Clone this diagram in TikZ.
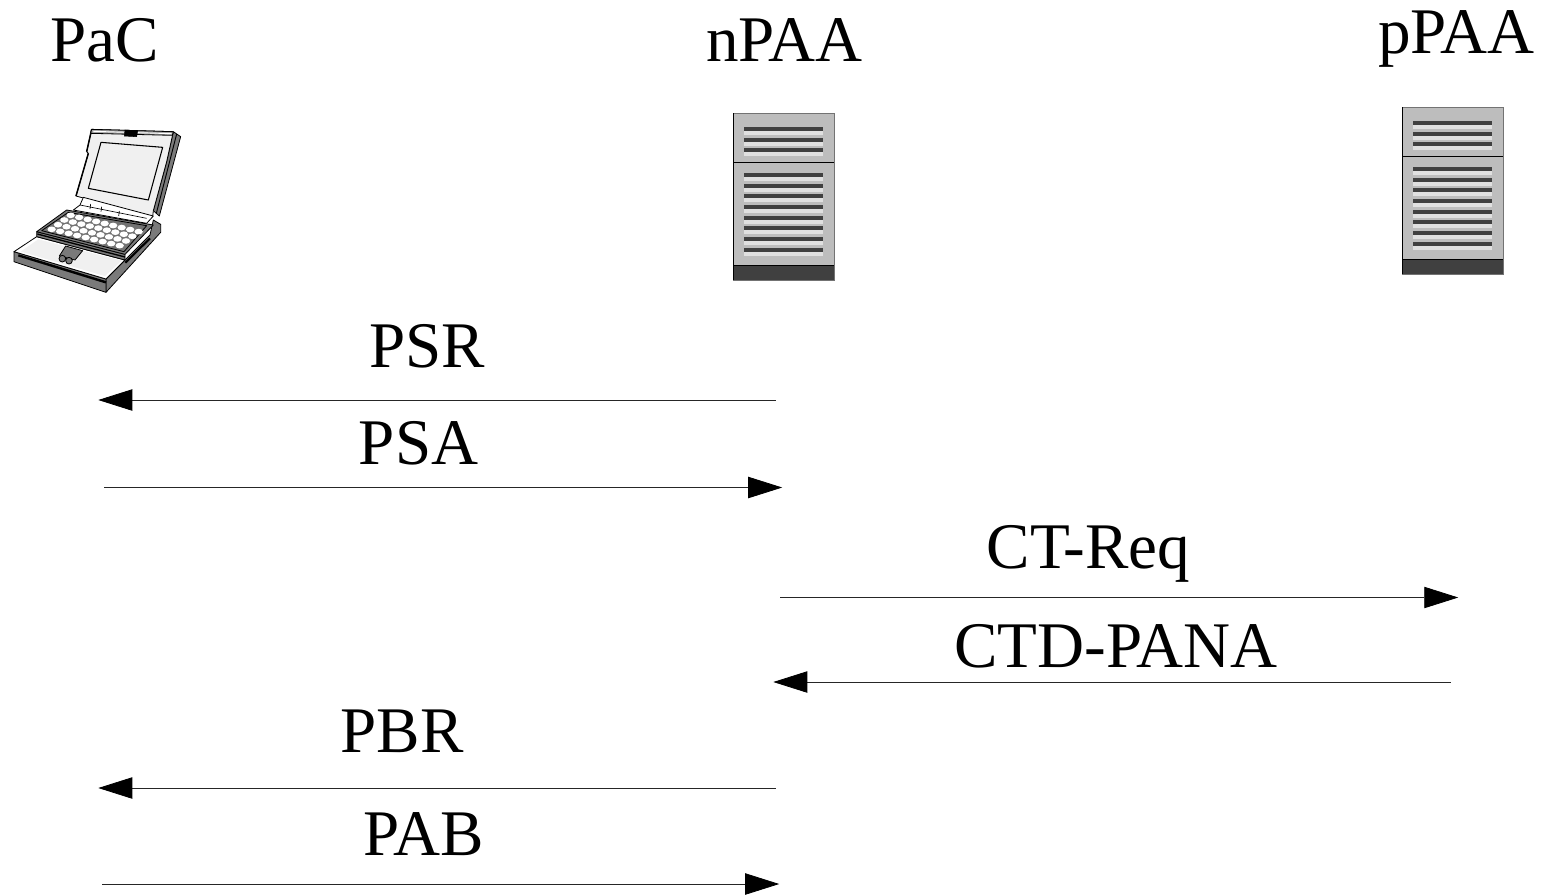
\documentclass[tikz,border=0pt]{standalone}
\usepackage{fontspec}
\setmainfont{Liberation Serif}
\usetikzlibrary{arrows.meta}
\definecolor{srvgray}{HTML}{BDBDBD}
\definecolor{srvdark}{HTML}{404040}
\definecolor{srvlight}{HTML}{E0E0E0}
\definecolor{lapgray}{HTML}{7A7A7A}
\definecolor{lapscreen}{HTML}{F0F0F0}
\tikzset{
  lbl/.style={anchor=base,inner sep=0pt,font=\fontsize{48.8}{48.8}\selectfont},
  msg/.style={draw=black!85,line width=0.6pt,-{Triangle[length=25.5pt,width=16pt,color=black]}},
  lappart/.style={draw=black,line width=0.6pt,line join=round},
  pin/.style={inner sep=0pt,minimum size=0pt}
}
\newcommand{\serverpic}[2]{%
  \begin{scope}[shift={(#1,#2)}]
    \fill[srvgray] (0,0) rectangle (101,152);
    \fill[srvdark] (0,152) rectangle (101,167);
    \draw[black,line width=0.7pt] (0,49) -- (101,49);
    \draw[black,line width=0.7pt] (0,152) -- (101,152);
    \draw[black!55,line width=0.7pt] (0,0) -- (101,0) -- (101,167) -- (0,167);
    \draw[black,line width=0.7pt] (0,0) -- (0,167);
    \foreach \yy in {14,25,35,60,71,81,92,103,113,124,135}{
      \fill[srvdark] (11,\yy) rectangle (90,\yy+4);
      \fill[srvlight] (11,\yy+4) rectangle (90,\yy+8);
    }
  \end{scope}}
\begin{document}
\begin{tikzpicture}[x=0.75pt,y=-0.75pt]
\useasboundingbox (0,0) rectangle (1541,894);
% laptop (coordinates in thirds of a pixel, crop origin 0,110)
\begin{scope}[shift={(0,110)},x=0.25pt,y=-0.25pt]
  % lid right edge
  \filldraw[lappart,fill=lapgray] (520,65) -- (542,80) -- (478,318) -- (460,302) -- (500,155) -- cycle;
  \draw[black,line width=0.7pt] (530,72) -- (469,310);
  % lid face
  \filldraw[lappart,fill=lapscreen] (275,58) -- (520,65) -- (500,155) -- (460,302) -- (458,320) -- (228,258) -- (265,130) -- (260,125) -- cycle;
  \draw[black,line width=1.1pt] (275,58) -- (260,125) (265,130) -- (228,258);
  \filldraw[lappart,fill=lapgray!70] (275,58) -- (520,65) -- (517,76) -- (272,70) -- cycle;
  \draw[white,line width=0.7pt] (280,64) -- (515,71);
  \filldraw[lappart,fill=lapscreen,line width=0.8pt] (303,97) -- (488,112) -- (445,270) -- (265,235) -- cycle;
  \filldraw[black] (375,60) -- (413,62) -- (410,80) -- (373,78) -- cycle;
  % hinge
  \filldraw[lappart,fill=white] (250,262) -- (460,318) -- (440,340) -- (220,300) -- (240,285) -- cycle;
  \draw[line width=0.5pt] (272,282) -- (270,297) (305,290) -- (303,305) (358,303) -- (356,318) (240,285) -- (440,325);
  % right side and rear block
  \filldraw[lappart,fill=lapgray] (318,507) -- (375,450) -- (450,375) -- (460,330) -- (482,343) -- (482,367) -- (318,547) -- cycle;
  \draw[black,line width=1.6pt] (376,458) -- (450,385);
  % front edge
  \filldraw[lappart,fill=lapgray] (42,425) -- (318,507) -- (318,547) -- (42,455) -- cycle;
  \draw[black,line width=1.8pt] (55,436) -- (318,517);
  % palm rest
  \filldraw[lappart,fill=white] (42,425) -- (110,380) -- (375,450) -- (318,507) -- cycle;
  \filldraw[draw=none,fill=lapscreen] (62,425) -- (115,388) -- (365,452) -- (315,498) -- cycle;
  % keyboard lip
  \filldraw[lappart,fill=lapgray] (110,365) -- (375,433) -- (375,450) -- (110,380) -- cycle;
  \draw[black,line width=1pt] (112,372) -- (375,441);
  % keyboard well
  \filldraw[lappart,fill=lapgray] (110,365) -- (200,300) -- (460,345) -- (375,433) -- cycle;
  \filldraw[lappart,fill=black!55] (125,362) -- (205,307) -- (440,347) -- (372,425) -- cycle;
  \foreach \row in {0,1,2,3}{
    \foreach \col in {0,...,8}{
      \fill[white] ({155+\row*19+\col*25.5},{358-\row*14+\col*6.1}) ellipse [x radius=12.5,y radius=8.5];
    }
  }
  % touch pad and buttons
  \filldraw[lappart,fill=lapgray] (197,408) -- (248,422) -- (225,450) -- (178,438) -- cycle;
  \filldraw[lappart,fill=lapgray] (187,446) circle (10);
  \filldraw[lappart,fill=lapgray] (207,452) circle (10);
\end{scope}
% servers
\serverpic{733}{113}
\serverpic{1402}{107}
% labels
\node[lbl] (pac)  at (105,61) {PaC};
\node[lbl] (npaa) at (784.5,61) {nPAA};
\node[lbl] (ppaa) at (1456.5,53) {pPAA};
\node[lbl] (psr) at (427,367) {PSR};
\node[lbl] (psa) at (418.5,464) {PSA};
\node[lbl] (ctreq) at (1088.5,568) {CT-Req};
\node[lbl] (ctd) at (1116,667) {CTD-PANA};
\node[lbl] (pbr) at (402,752) {PBR};
\node[lbl] (pab) at (424,855) {PAB};
% connector ends
\node[pin] (a1) at (776,400) {}; \node[pin] (a2) at (98,400) {};
\node[pin] (b1) at (104,487.5) {}; \node[pin] (b2) at (782.5,487.5) {};
\node[pin] (c1) at (780,597.5) {}; \node[pin] (c2) at (1458.5,597.5) {};
\node[pin] (d1) at (1451,682) {}; \node[pin] (d2) at (773,682) {};
\node[pin] (e1) at (776,788) {}; \node[pin] (e2) at (98,788) {};
\node[pin] (f1) at (102,884) {}; \node[pin] (f2) at (779.5,884) {};
\draw[msg] (a1) -- (a2);
\draw[msg] (b1) -- (b2);
\draw[msg] (c1) -- (c2);
\draw[msg] (d1) -- (d2);
\draw[msg] (e1) -- (e2);
\draw[msg] (f1) -- (f2);
\end{tikzpicture}
\end{document}
